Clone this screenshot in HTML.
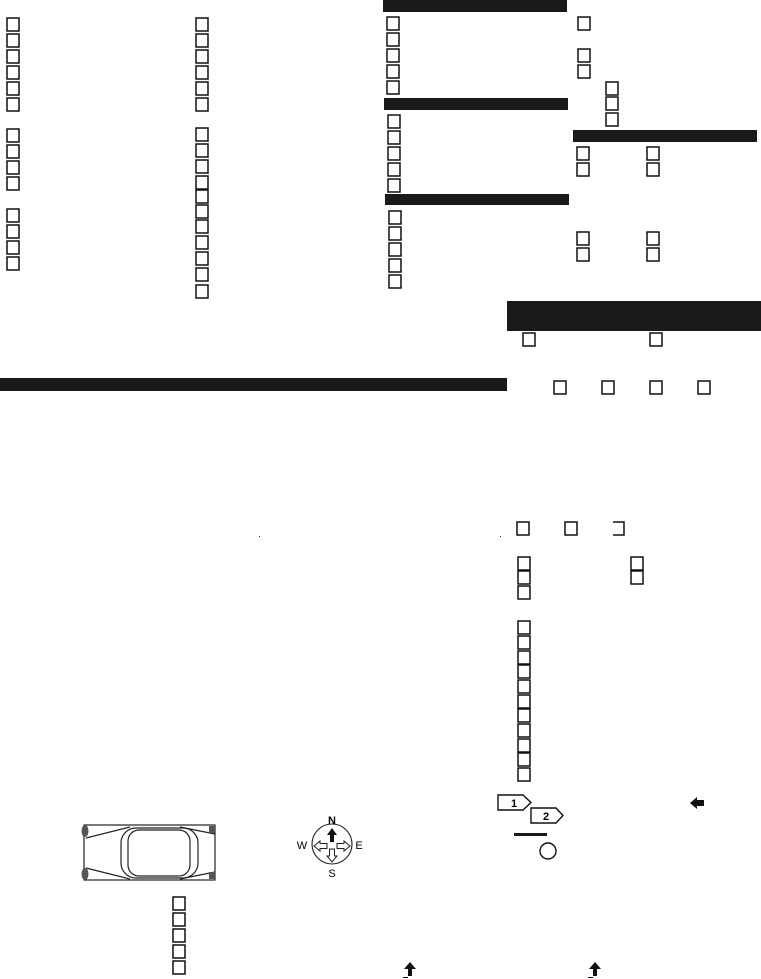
<!DOCTYPE html>
<html><head><meta charset="utf-8"><style>
html,body{margin:0;padding:0;background:#fff;}
svg{display:block;}
</style></head><body>
<svg width="761" height="979" viewBox="0 0 761 979" xmlns="http://www.w3.org/2000/svg" font-family="Liberation Sans, sans-serif">
<defs><rect id="b" width="12" height="13" fill="none" stroke="#111" stroke-width="1.5"/></defs>
<g fill="#1a1a1a">
<rect x="383" y="0" width="184" height="12"/>
<rect x="384" y="98" width="184" height="12"/>
<rect x="385" y="194" width="184" height="11"/>
<rect x="573" y="130" width="184" height="12"/>
<rect x="507" y="301" width="254" height="30"/>
<rect x="0" y="378" width="507" height="13"/>
<rect x="514" y="833" width="33" height="3"/>
<rect x="259" y="536" width="1" height="1"/>
<rect x="500" y="536" width="1" height="1"/>
</g>
<g>
<use href="#b" x="7" y="18"/><use href="#b" x="7" y="34"/><use href="#b" x="7" y="50"/><use href="#b" x="7" y="66"/><use href="#b" x="7" y="82"/><use href="#b" x="7" y="98"/>
<use href="#b" x="7" y="129"/><use href="#b" x="7" y="145"/><use href="#b" x="7" y="161"/><use href="#b" x="7" y="177"/>
<use href="#b" x="7" y="209"/><use href="#b" x="7" y="225"/><use href="#b" x="7" y="241"/><use href="#b" x="7" y="257"/>
<use href="#b" x="196" y="18"/><use href="#b" x="196" y="34"/><use href="#b" x="196" y="50"/><use href="#b" x="196" y="66"/><use href="#b" x="196" y="82"/><use href="#b" x="196" y="98"/>
<use href="#b" x="196" y="128"/><use href="#b" x="196" y="144"/><use href="#b" x="196" y="160"/><use href="#b" x="196" y="176"/><use href="#b" x="196" y="190"/><use href="#b" x="196" y="205"/><use href="#b" x="196" y="220"/><use href="#b" x="196" y="236"/><use href="#b" x="196" y="252"/><use href="#b" x="196" y="268"/><use href="#b" x="196" y="285"/>
<use href="#b" x="387" y="17"/><use href="#b" x="387" y="33"/><use href="#b" x="387" y="49"/><use href="#b" x="387" y="65"/><use href="#b" x="387" y="81"/>
<use href="#b" x="388" y="115"/><use href="#b" x="388" y="131"/><use href="#b" x="388" y="147"/><use href="#b" x="388" y="163"/><use href="#b" x="388" y="179"/>
<use href="#b" x="389" y="211"/><use href="#b" x="389" y="227"/><use href="#b" x="389" y="243"/><use href="#b" x="389" y="259"/><use href="#b" x="389" y="275"/>
<use href="#b" x="578" y="17"/><use href="#b" x="578" y="49"/><use href="#b" x="578" y="65"/>
<use href="#b" x="606" y="82"/><use href="#b" x="606" y="97"/><use href="#b" x="606" y="113"/>
<use href="#b" x="577" y="147"/><use href="#b" x="577" y="163"/><use href="#b" x="647" y="147"/><use href="#b" x="647" y="163"/>
<use href="#b" x="577" y="232"/><use href="#b" x="577" y="248"/><use href="#b" x="647" y="232"/><use href="#b" x="647" y="248"/>
<use href="#b" x="523" y="333"/><use href="#b" x="650" y="333"/>
<use href="#b" x="554" y="381"/><use href="#b" x="602" y="381"/><use href="#b" x="650" y="381"/><use href="#b" x="698" y="381"/>
<use href="#b" x="517" y="522"/><use href="#b" x="565" y="522"/>
<path d="M613 522H624V535H613" fill="none" stroke="#111" stroke-width="1.5"/>
<use href="#b" x="518" y="557"/><use href="#b" x="518" y="571"/><use href="#b" x="518" y="586"/>
<use href="#b" x="631" y="557"/><use href="#b" x="631" y="571"/>
<use href="#b" x="518" y="621"/><use href="#b" x="518" y="636"/><use href="#b" x="518" y="651"/><use href="#b" x="518" y="665"/><use href="#b" x="518" y="680"/><use href="#b" x="518" y="695"/><use href="#b" x="518" y="709"/><use href="#b" x="518" y="724"/><use href="#b" x="518" y="739"/><use href="#b" x="518" y="753"/><use href="#b" x="518" y="768"/>
<use href="#b" x="173" y="897"/><use href="#b" x="173" y="913"/><use href="#b" x="173" y="929"/><use href="#b" x="173" y="945"/><use href="#b" x="173" y="961"/>
</g>
<g fill="#fff" stroke="#111" stroke-width="1.4">
<path d="M498 795H523L531 802.5L523 810H498Z"/>
<path d="M531 808H556L563 815.5L556 823H531Z"/>
<circle cx="548" cy="851" r="8"/>
</g>
<text x="511" y="807" font-size="11" font-weight="bold">1</text>
<text x="543" y="820" font-size="11" font-weight="bold">2</text>
<path d="M690 803L697 797V800H704V806H697V809Z" fill="#111"/>
<path d="M410 962L404 969H408V976H412V969H416Z" fill="#111"/>
<rect x="403" y="977" width="5" height="1" fill="#111"/>
<path d="M595 962L589 969H593V976H597V969H601Z" fill="#111"/>
<rect x="588" y="977" width="5" height="1" fill="#111"/>
<g fill="none" stroke="#222" stroke-width="1.2">
<rect x="84" y="825" width="131" height="55"/>
<path d="M86 838L130 827M86 868L130 879M180 827L215 834M180 879L215 872"/>
<rect x="121" y="828" width="77" height="50" rx="15"/>
<rect x="128" y="830" width="62" height="46" rx="11"/>
</g>
<ellipse cx="85" cy="831" rx="3.5" ry="6" fill="#555"/>
<ellipse cx="85" cy="874" rx="3.5" ry="6" fill="#555"/>
<rect x="209" y="826" width="6" height="7" fill="#555"/>
<rect x="209" y="872" width="6" height="7" fill="#555"/>
<circle cx="332" cy="844" r="20" fill="none" stroke="#222" stroke-width="1.1"/>
<path d="M332 828L327 835H330V842H334V835H337Z" fill="#111"/>
<path d="M314 846L320 841V843.5H327V848.5H320V851Z M350 846L344 841V843.5H337V848.5H344V851Z M332 862L327 856H329.5V849H334.5V856H337Z" fill="#fff" stroke="#222" stroke-width="1"/>
<text x="332" y="824" font-size="11" font-weight="bold" text-anchor="middle">N</text>
<text x="332" y="877" font-size="11" text-anchor="middle">S</text>
<text x="302" y="849" font-size="11" text-anchor="middle">W</text>
<text x="359" y="849" font-size="11" text-anchor="middle">E</text>
</svg>
</body></html>
